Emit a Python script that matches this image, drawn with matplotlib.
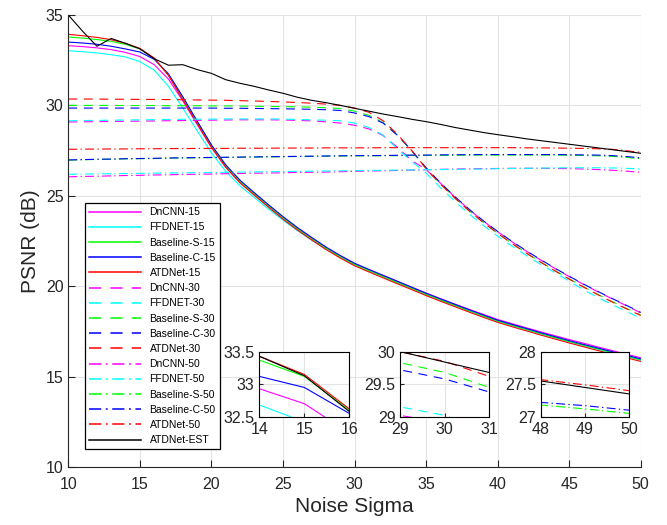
import matplotlib
matplotlib.use("Agg")
import matplotlib.pyplot as plt

plt.rcParams['font.family'] = ['Liberation Sans', 'DejaVu Sans']

# noise levels (x axis)
sigma = list(range(10, 51))

# --- models trained at sigma 15 (solid) ---
dncnn_15 = [33.30, 33.25, 33.18, 33.08, 32.93, 32.70, 32.25, 31.45, 30.25, 28.95,
            27.68, 26.60, 25.75, 25.08, 24.42, 23.78, 23.19, 22.65, 22.13, 21.67,
            21.24, 20.90, 20.58, 20.26, 19.94, 19.62, 19.31, 19.01, 18.72, 18.44,
            18.16, 17.93, 17.70, 17.48, 17.26, 17.05, 16.85, 16.64, 16.44, 16.24, 16.04]
ffdnet_15 = [33.02, 32.97, 32.90, 32.80, 32.68, 32.42, 31.95, 31.05, 29.85, 28.60,
             27.38, 26.35, 25.55, 24.90, 24.26, 23.65, 23.08, 22.55, 22.05, 21.60,
             21.18, 20.84, 20.51, 20.18, 19.86, 19.53, 19.22, 18.92, 18.62, 18.33,
             18.05, 17.82, 17.59, 17.36, 17.14, 16.92, 16.71, 16.51, 16.31, 16.11, 15.91]
base_s_15 = [33.78, 33.72, 33.64, 33.54, 33.37, 33.12, 32.60, 31.68, 30.40, 29.07,
             27.75, 26.64, 25.78, 25.10, 24.43, 23.78, 23.18, 22.63, 22.10, 21.63,
             21.20, 20.86, 20.53, 20.20, 19.88, 19.55, 19.24, 18.94, 18.64, 18.35,
             18.07, 17.84, 17.61, 17.38, 17.16, 16.94, 16.73, 16.53, 16.33, 16.13, 15.93]
base_c_15 = [33.50, 33.45, 33.38, 33.27, 33.12, 32.95, 32.55, 31.74, 30.48, 29.14,
             27.82, 26.71, 25.86, 25.17, 24.50, 23.85, 23.25, 22.70, 22.17, 21.70,
             21.27, 20.93, 20.60, 20.27, 19.94, 19.61, 19.30, 19.00, 18.70, 18.41,
             18.12, 17.89, 17.66, 17.43, 17.21, 16.99, 16.78, 16.58, 16.38, 16.18, 15.98]
atd_15 = [33.93, 33.85, 33.76, 33.63, 33.43, 33.15, 32.62, 31.65, 30.32, 29.00,
          27.68, 26.57, 25.71, 25.03, 24.36, 23.71, 23.11, 22.56, 22.03, 21.56,
          21.13, 20.79, 20.46, 20.13, 19.81, 19.48, 19.17, 18.87, 18.57, 18.28,
          18.00, 17.76, 17.53, 17.30, 17.08, 16.86, 16.65, 16.44, 16.24, 16.04, 15.84]

# --- models trained at sigma 30 (dashed) ---
dncnn_30 = [29.08, 29.09, 29.10, 29.11, 29.12, 29.13, 29.14, 29.15, 29.16, 29.17,
            29.18, 29.19, 29.20, 29.20, 29.20, 29.19, 29.17, 29.14, 29.09, 29.02,
            28.90, 28.70, 28.33, 27.68, 26.95, 26.45, 25.70, 24.94, 24.24, 23.60,
            23.01, 22.46, 21.94, 21.45, 20.98, 20.53, 20.10, 19.69, 19.30, 18.92, 18.52]
ffdnet_30 = [29.15, 29.16, 29.17, 29.18, 29.19, 29.20, 29.21, 29.22, 29.23, 29.24,
             29.24, 29.25, 29.25, 29.25, 29.25, 29.24, 29.22, 29.20, 29.18, 29.15,
             29.02, 28.78, 28.35, 27.60, 26.90, 26.25, 25.45, 24.70, 24.00, 23.36,
             22.77, 22.22, 21.70, 21.21, 20.75, 20.28, 19.80, 19.38, 18.98, 18.60, 18.22]
base_s_30 = [30.00, 30.00, 30.00, 30.00, 29.99, 29.99, 29.99, 29.98, 29.98, 29.98,
             29.97, 29.97, 29.96, 29.95, 29.94, 29.93, 29.92, 29.90, 29.87, 29.83,
             29.68, 29.45, 29.05, 28.35, 27.48, 26.50, 25.66, 24.89, 24.18, 23.53,
             22.93, 22.37, 21.84, 21.34, 20.87, 20.41, 19.97, 19.55, 19.15, 18.77, 18.40]
base_c_30 = [29.85, 29.85, 29.85, 29.85, 29.85, 29.85, 29.85, 29.85, 29.85, 29.85,
             29.85, 29.84, 29.84, 29.83, 29.82, 29.81, 29.80, 29.78, 29.76, 29.72,
             29.58, 29.38, 29.02, 28.35, 27.50, 26.55, 25.72, 24.96, 24.26, 23.62,
             23.03, 22.48, 21.96, 21.47, 21.00, 20.55, 20.12, 19.71, 19.32, 18.94, 18.55]
atd_30 = [30.35, 30.35, 30.35, 30.34, 30.34, 30.33, 30.33, 30.32, 30.31, 30.30,
          30.29, 30.28, 30.26, 30.24, 30.22, 30.19, 30.16, 30.12, 30.07, 30.00,
          29.85, 29.62, 29.15, 28.40, 27.50, 26.50, 25.65, 24.88, 24.17, 23.52,
          22.92, 22.36, 21.83, 21.33, 20.85, 20.39, 19.95, 19.53, 19.13, 18.75, 18.38]

# --- models trained at sigma 50 (dash-dot) ---
dncnn_50 = [26.05, 26.07, 26.08, 26.10, 26.12, 26.13, 26.15, 26.16, 26.18, 26.19,
            26.20, 26.22, 26.23, 26.25, 26.26, 26.27, 26.29, 26.30, 26.31, 26.33,
            26.35, 26.37, 26.38, 26.40, 26.42, 26.44, 26.46, 26.48, 26.49, 26.50,
            26.51, 26.52, 26.52, 26.52, 26.51, 26.50, 26.48, 26.45, 26.41, 26.36, 26.30]
ffdnet_50 = [26.19, 26.20, 26.21, 26.22, 26.23, 26.24, 26.25, 26.26, 26.27, 26.28,
             26.29, 26.30, 26.31, 26.32, 26.33, 26.34, 26.35, 26.36, 26.37, 26.38,
             26.39, 26.40, 26.41, 26.42, 26.43, 26.44, 26.45, 26.46, 26.47, 26.48,
             26.50, 26.51, 26.52, 26.53, 26.54, 26.55, 26.55, 26.55, 26.54, 26.52, 26.48]
base_s_50 = [26.97, 26.99, 27.01, 27.02, 27.04, 27.05, 27.06, 27.08, 27.09, 27.10,
             27.11, 27.12, 27.13, 27.14, 27.15, 27.16, 27.17, 27.18, 27.19, 27.20,
             27.20, 27.21, 27.21, 27.22, 27.23, 27.23, 27.24, 27.24, 27.25, 27.25,
             27.25, 27.25, 27.25, 27.25, 27.25, 27.24, 27.23, 27.21, 27.18, 27.12, 27.05]
base_c_50 = [26.98, 27.00, 27.02, 27.03, 27.05, 27.06, 27.07, 27.09, 27.10, 27.11,
             27.12, 27.13, 27.14, 27.15, 27.16, 27.17, 27.18, 27.19, 27.20, 27.21,
             27.22, 27.22, 27.23, 27.24, 27.25, 27.25, 27.26, 27.27, 27.27, 27.28,
             27.28, 27.28, 27.28, 27.28, 27.28, 27.27, 27.26, 27.25, 27.22, 27.17, 27.10]
atd_50 = [27.57, 27.58, 27.58, 27.59, 27.59, 27.60, 27.60, 27.61, 27.61, 27.62,
          27.62, 27.62, 27.63, 27.63, 27.63, 27.64, 27.64, 27.64, 27.65, 27.65,
          27.65, 27.65, 27.66, 27.66, 27.66, 27.66, 27.66, 27.66, 27.66, 27.66,
          27.66, 27.66, 27.65, 27.65, 27.64, 27.63, 27.62, 27.60, 27.57, 27.49, 27.40]

# --- noise-estimation variant ---
atd_est = [35.00, 34.10, 33.27, 33.70, 33.43, 33.13, 32.58, 32.22, 32.25, 31.98,
           31.77, 31.42, 31.22, 31.05, 30.85, 30.67, 30.45, 30.28, 30.15, 30.00,
           29.84, 29.68, 29.52, 29.38, 29.23, 29.10, 28.95, 28.78, 28.64, 28.50,
           28.38, 28.27, 28.15, 28.05, 27.95, 27.85, 27.75, 27.65, 27.55, 27.45, 27.35]

names = ['DnCNN', 'FFDNET', 'Baseline-S', 'Baseline-C', 'ATDNet']
colors = ['#ff00ff', '#00ffff', '#00ff00', '#0000ff', '#ff0000']
groups = [
    ('15', '-', [dncnn_15, ffdnet_15, base_s_15, base_c_15, atd_15]),
    ('30', (0, (8, 6)), [dncnn_30, ffdnet_30, base_s_30, base_c_30, atd_30]),
    ('50', (0, (8, 3, 1.2, 3)), [dncnn_50, ffdnet_50, base_s_50, base_c_50, atd_50]),
]

axis_col = '#262626'
grid_col = '#e3e3e3'
LW = 0.8


def draw_all(ax, with_labels=False):
    for tag, ls, series in groups:
        for name, col, vals in zip(names, colors, series):
            ax.plot(sigma, vals, color=col, linestyle=ls, lw=LW,
                    label=f'{name}-{tag}' if with_labels else None)
    ax.plot(sigma, atd_est, color='k', lw=LW,
            label='ATDNet-EST' if with_labels else None)


fig = plt.figure(figsize=(6.67, 5.25), dpi=100)
ax = fig.add_axes([0.1024, 0.1105, 0.8582, 0.861])
draw_all(ax, with_labels=True)
ax.set_xlim(10, 50)
ax.set_ylim(10, 35)
ax.set_xticks([10, 15, 20, 25, 30, 35, 40, 45, 50])
ax.set_yticks([10, 15, 20, 25, 30, 35])
ax.grid(True, color=grid_col, lw=0.8)
ax.set_axisbelow(True)
for s in ['top', 'right']:
    ax.spines[s].set_visible(False)
for s in ['left', 'bottom']:
    ax.spines[s].set_color(axis_col)
ax.tick_params(direction='in', length=5, labelsize=11.5, colors=axis_col)
ax.tick_params(axis='x', pad=7)
ax.set_xlabel('Noise Sigma', fontsize=15, color=axis_col, labelpad=4)
ax.set_ylabel('PSNR (dB)', fontsize=15, color=axis_col)

leg = ax.legend(loc='upper left', bbox_to_anchor=(85 / 667, 1 - 203 / 525),
                bbox_transform=fig.transFigure, borderaxespad=0,
                fontsize=7.5, handlelength=5, labelspacing=0.5,
                fancybox=False, framealpha=1, edgecolor='k')
leg.get_frame().set_linewidth(0.9)
for h in leg.get_lines():
    h.set_linewidth(1.1)

# zoomed insets
insets = [
    ([0.3888, 0.2063, 0.1349, 0.1238], (14, 16), (32.5, 33.5), [14, 15, 16], [32.5, 33, 33.5]),
    ([0.6002, 0.2063, 0.1334, 0.1238], (29, 31), (29, 30), [29, 30, 31], [29, 29.5, 30]),
    ([0.8106, 0.2063, 0.1328, 0.1238], (48, 50), (27, 28), [48, 49, 50], [27, 27.5, 28]),
]
for rect, xl, yl, xt, yt in insets:
    a = fig.add_axes(rect)
    draw_all(a)
    a.set_xlim(*xl)
    a.set_ylim(*yl)
    a.set_xticks(xt)
    a.set_yticks(yt)
    a.set_yticklabels([f'{v:g}' for v in yt])
    a.grid(True, color=grid_col, lw=0.8)
    a.set_axisbelow(True)
    for s in a.spines.values():
        s.set_color('k')
    a.tick_params(direction='in', length=3, labelsize=11.5, colors=axis_col)

fig.savefig('out.png', dpi=100)
